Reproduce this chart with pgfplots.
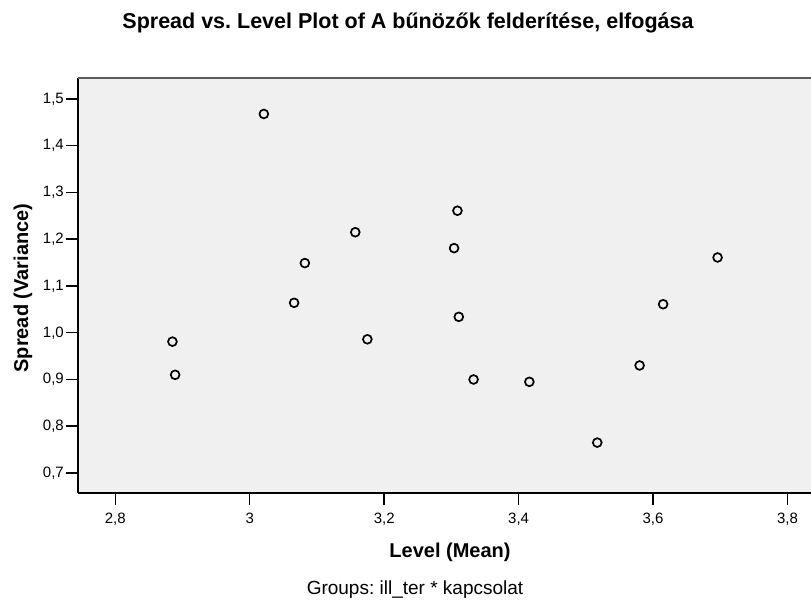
\documentclass[border=0pt]{standalone}
\usepackage{pgfplots}
\pgfplotsset{compat=1.18}
\usepackage{fontspec}
\setmainfont{Liberation Sans}
\definecolor{plotbg}{RGB}{240,240,240}
\definecolor{topline}{RGB}{90,90,90}
\frenchspacing
\begin{document}
\begin{tikzpicture}[x=1pt,y=1pt]
\path[use as bounding box, fill=white] (0,0) rectangle (811,603);
\begin{axis}[
  at={(78pt,110pt)}, anchor=south west,
  width=733pt, height=415pt, scale only axis,
  xmin=2.7445, xmax=3.835, ymin=0.6572, ymax=1.5449,
  axis background/.style={fill=plotbg},
  axis x line*=bottom, axis y line*=left,
  axis line style={line width=1.5pt,-},
  xtick={2.8,3.0,3.2,3.4,3.6,3.8},
  ytick={0.7,0.8,0.9,1.0,1.1,1.2,1.3,1.4,1.5},
  tick align=outside, major tick length=12pt,
  tick style={line width=1.5pt,black},
  /pgf/number format/assume math mode=true,
  /pgf/number format/use comma,
  xticklabel style={/pgf/number format/fixed,/pgf/number format/precision=1,font=\fontsize{15}{17}\selectfont, inner sep=0pt, anchor=north, yshift=-8pt},
  yticklabel style={/pgf/number format/fixed,/pgf/number format/fixed zerofill,/pgf/number format/precision=1,font=\fontsize{15}{17}\selectfont, inner sep=0pt, anchor=east, xshift=-2pt},
  clip=false,
]
\draw[topline, line width=1.5pt] (rel axis cs:0,1) -- (rel axis cs:1,1);
\addplot[only marks, mark=o, mark size=4.4pt, mark options={line width=1.7pt, black}] coordinates {
(3.021,1.468)
(3.157,1.215)
(3.082,1.149)
(3.066,1.064)
(2.885,0.981)
(3.175,0.986)
(2.889,0.910)
(3.309,1.261)
(3.304,1.181)
(3.696,1.161)
(3.615,1.061)
(3.311,1.034)
(3.580,0.930)
(3.333,0.900)
(3.416,0.895)
(3.517,0.765)
};
\end{axis}
\node[font=\bfseries\fontsize{21.5}{24}\selectfont] at (408,580) {Spread vs. Level Plot of A bűnözők felderítése, elfogása};
\node[font=\bfseries\fontsize{20}{22}\selectfont] at (450,51) {Level (Mean)};
\node[font=\bfseries\fontsize{20}{22}\selectfont, rotate=90] at (23,315) {Spread (Variance)};
\node[font=\fontsize{19}{21}\selectfont] at (415,13) {Groups: ill\_ter * kapcsolat};
\end{tikzpicture}
\end{document}
